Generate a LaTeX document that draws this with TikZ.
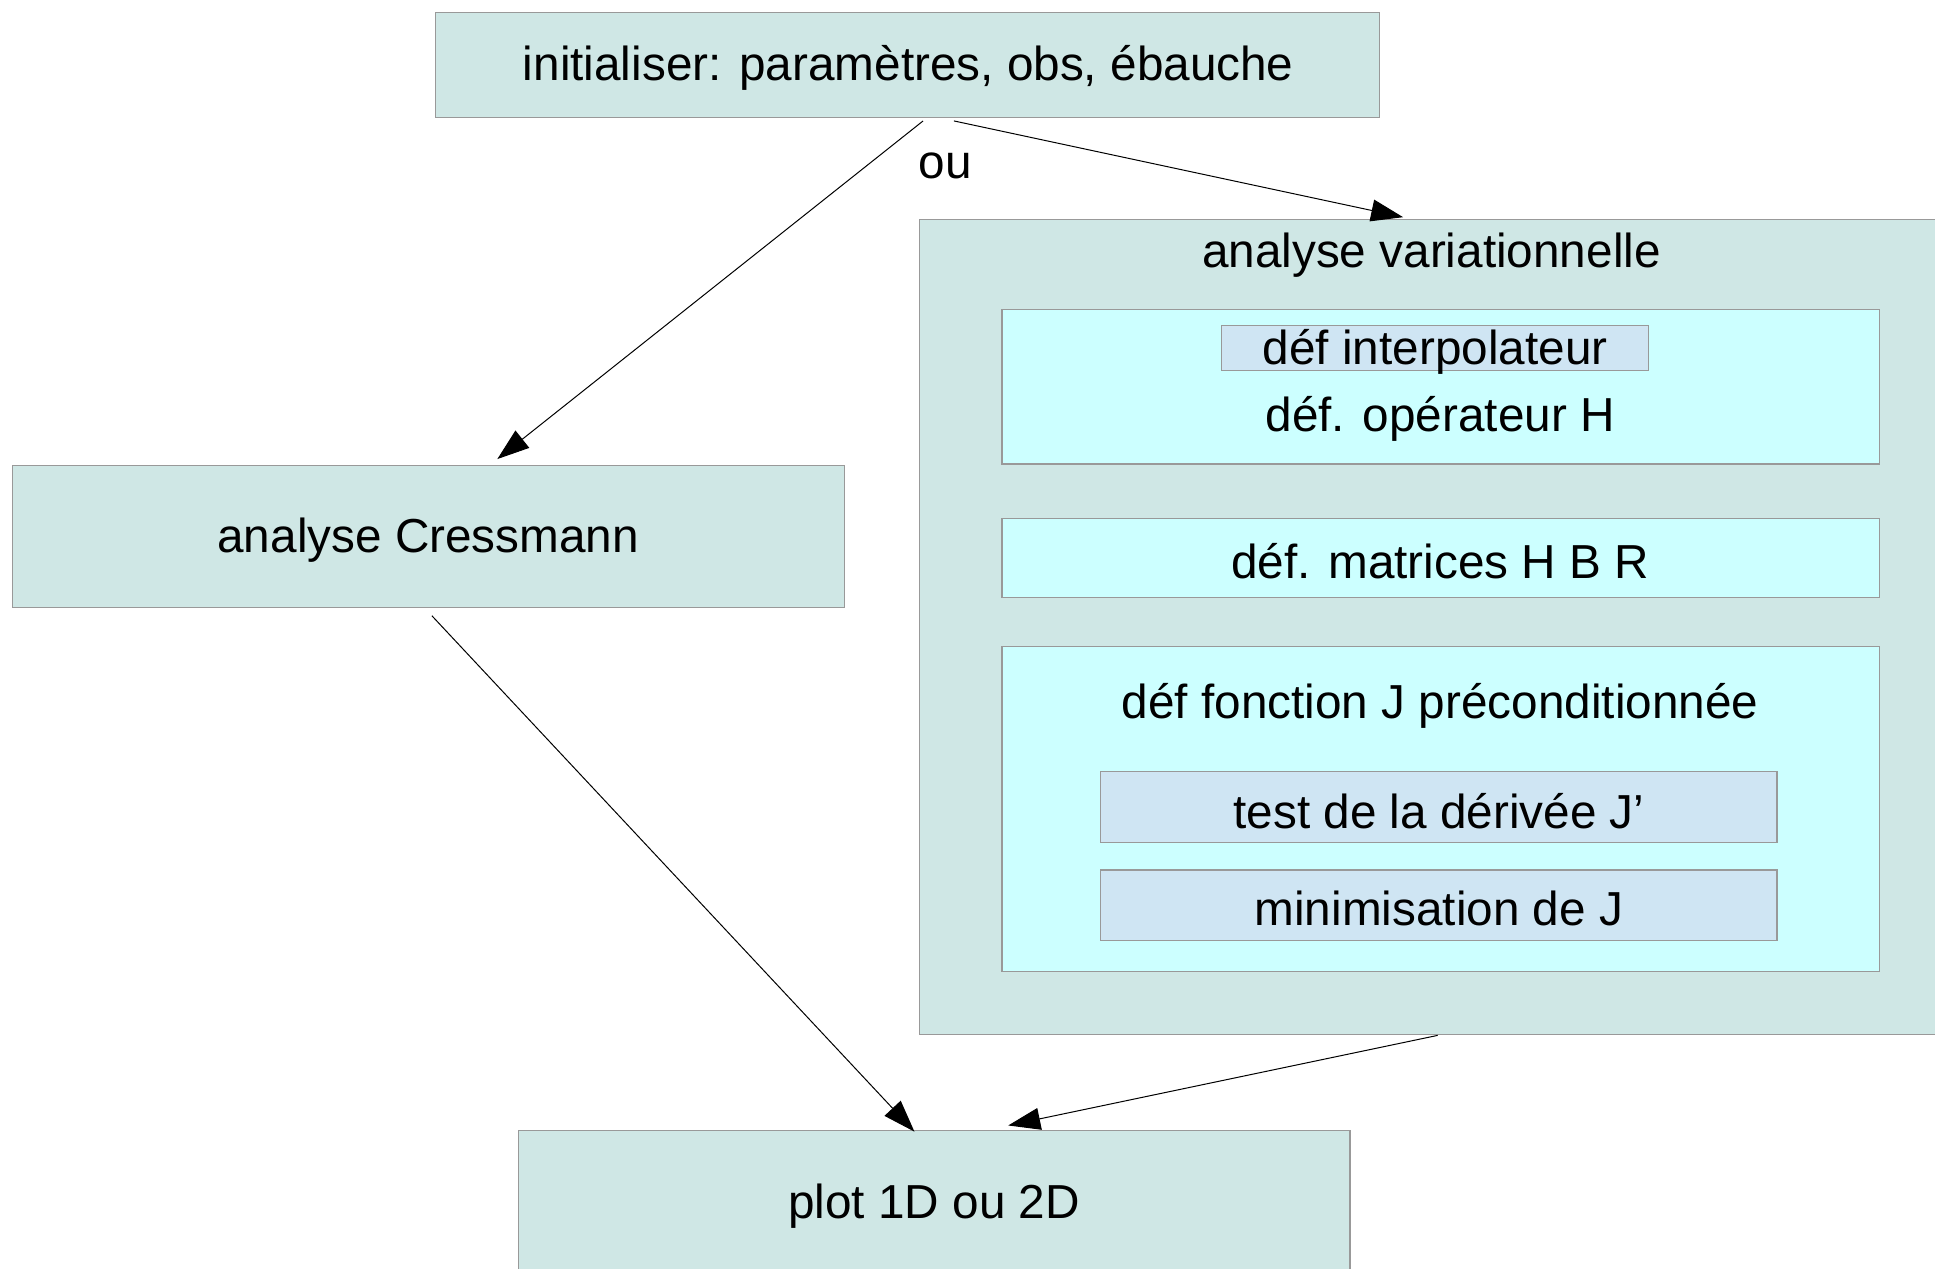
\documentclass[tikz,border=0pt]{standalone}
\usepackage{fontspec}
\setmainfont{Liberation Sans}
\usetikzlibrary{fit,calc,arrows.meta}
\definecolor{mainfill}{HTML}{CFE7E5}
\definecolor{innerfill}{HTML}{CCFFFF}
\definecolor{subfill}{HTML}{CFE5F3}
\definecolor{bordergray}{HTML}{999999}
\tikzset{
  box/.style={draw=bordergray, line width=0.6pt, inner sep=0pt, outer sep=0pt},
  mainbox/.style={box, fill=mainfill},
  innerbox/.style={box, fill=innerfill},
  subbox/.style={box, fill=subfill},
  txt/.style={inner sep=0pt, yshift=-1.9pt, font=\fontsize{23.85}{28}\selectfont},
  conn/.style={line width=0.5pt, -{Triangle[length=16pt, width=11pt]}},
}
\begin{document}
\begin{tikzpicture}[x=0.617pt, y=-0.617pt]
\useasboundingbox (0,0) rectangle (1568,1028);
\clip (0,0) rectangle (1568,1028);
\fill[white] (0,0) rectangle (1568,1028);
% top box
\node[mainbox, fit={(353,10) (1118,95)}] (init) {};
\node[txt] (initt) at (736,52) {initialiser: paramètres, obs, ébauche};
% Cressmann
\node[mainbox, fit={(10,377) (684,492)}] (cress) {};
\node[txt] (cresst) at (347,435) {analyse Cressmann};
% variationnelle
\node[mainbox, fit={(745,178) (1576,838)}] (var) {};
\node[txt] (vart) at (1160,204) {analyse variationnelle};
\node[innerbox, fit={(812,251) (1523,376)}] (in1) {};
\node[subbox, fit={(990,264) (1336,300)}] (interp) {};
\node[txt] (interpt) at (1163,282) {déf interpolateur};
\node[txt] (opt) at (1167,336) {déf. opérateur H};
\node[innerbox, fit={(812,420) (1523,484)}] (in2) {};
\node[txt] (in2t) at (1167,452) {déf. matrices H B R};
\node[innerbox, fit={(812,524) (1523,787)}] (in3) {};
\node[txt] (in3t) at (1167,569) {déf fonction J préconditionnée};
\node[subbox, fit={(892,625) (1440,683)}] (test) {};
\node[txt] (testt) at (1166,654) {test de la dérivée J’};
\node[subbox, fit={(892,705) (1440,762)}] (mini) {};
\node[txt] (minit) at (1166,733) {minimisation de J};
% plot
\node[mainbox, fit={(420,916) (1094,1040)}] (plot) {};
\node[txt] (plott) at (757,974) {plot 1D ou 2D};
% ou label
\node[txt] (ou) at (766,131) {ou};
% connectors
\draw[conn] ($(init.south)+(12.5,3)$) -- ($(cress.north west)+(393,-5)$);
\draw[conn] ($(init.south)+(37.5,3)$) -- ($(var.north west)+(392,-2)$);
\draw[conn] ($(cress.south west)+(340,7)$) -- ($(plot.north west)+(321,1)$);
\draw[conn] ($(var.south west)+(420,1)$) -- ($(plot.north west)+(397,-4)$);
\end{tikzpicture}
\end{document}
